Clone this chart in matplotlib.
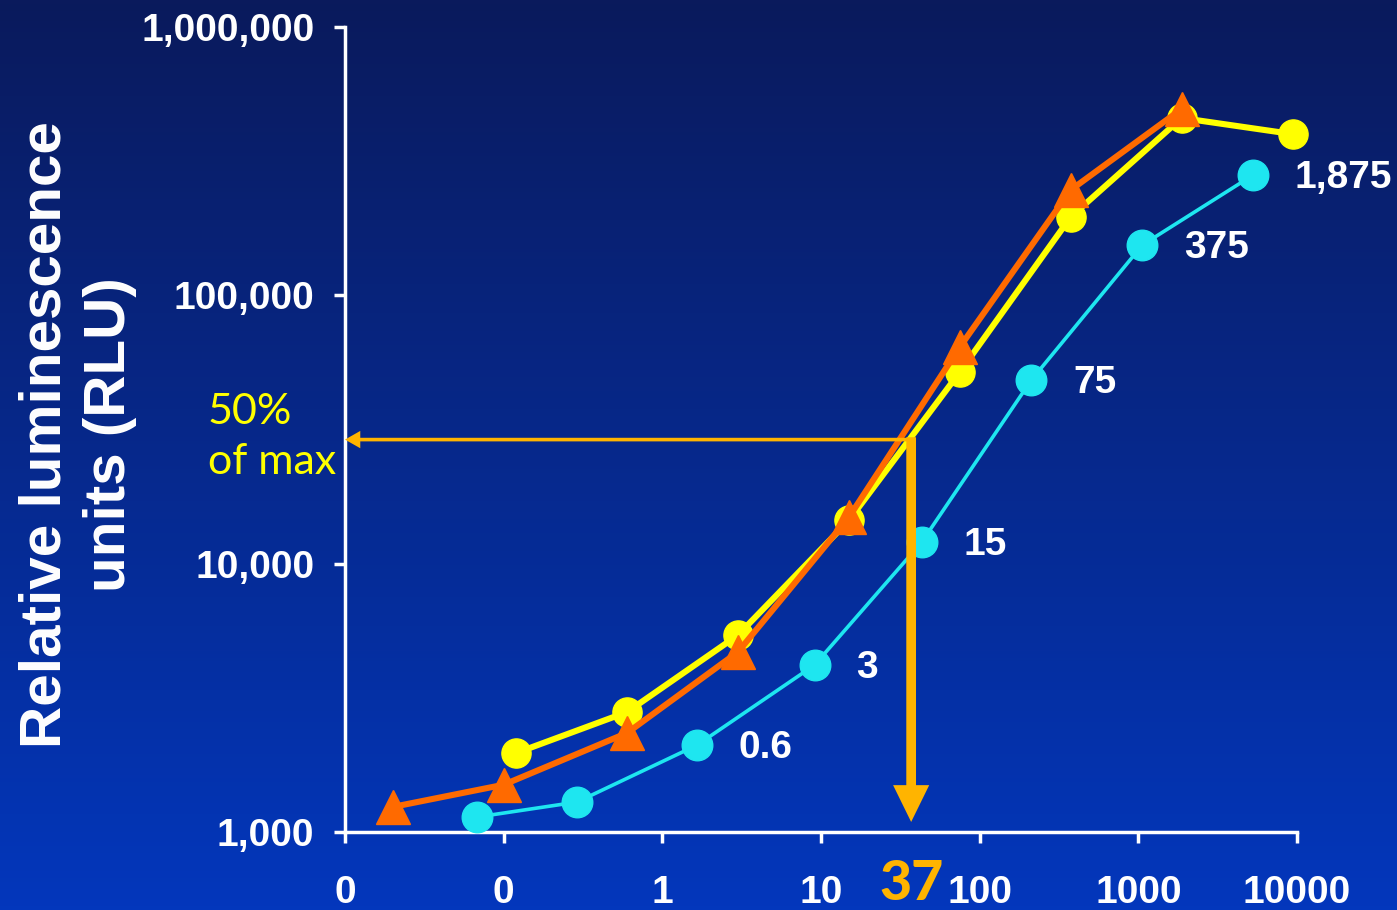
import numpy as np
import matplotlib
matplotlib.use("Agg")
import matplotlib.pyplot as plt

plt.rcParams.update({
    "font.family": ["Liberation Sans", "DejaVu Sans"],
    "font.weight": "bold",
})

WHITE  = "#ffffff"
ORANGE = "#ff6a00"
YELLOW = "#ffff00"
CYAN   = "#1ee6f0"
AMBER  = "#ffb400"

# dose (x) and relative luminescence (y) for the three series
orange_x = [0.02, 0.1, 0.6, 3, 15, 75, 375, 1875]
orange_y = [1240, 1500, 2340, 4690, 14900, 64200, 247000, 495000]
yellow_x = [0.12, 0.6, 3, 15, 75, 375, 1875, 9375]
yellow_y = [1970, 2800, 5420, 14500, 51800, 196000, 458000, 399000]
cyan_x = [0.068, 0.29, 1.66, 9.1, 43, 212, 1060, 5300]
cyan_y = [1137, 1293, 2110, 4190, 12000, 48400, 154000, 281000]
cyan_labels = ["", "", "0.6", "3", "15", "75", "375", "1,875"]

xticks = [0.01, 0.1, 1, 10, 100, 1000, 10000]
xticklabels = ["0", "0", "1", "10", "100", "1000", "10000"]
yticks = [1000, 10000, 100000, 1000000]
yticklabels = ["1,000", "10,000", "100,000", "1,000,000"]

half_max = 29000      # "50% of max" level
ec50 = 37
arrow_tip = 1090

fig = plt.figure(figsize=(13.97, 9.10), dpi=100)

# vertical navy -> blue gradient behind everything
bg = fig.add_axes([0, 0, 1, 1], zorder=-10)
grad = np.linspace(0, 1, 256)[:, None]
top, bot = np.array([0x0a, 0x1a, 0x5c]) / 255, np.array([0x03, 0x37, 0xbc]) / 255
img = top + (bot - top) * grad[..., None]
bg.imshow(np.repeat(img, 2, axis=1), aspect="auto", extent=[0, 1, 0, 1], origin="upper")
bg.axis("off")

ax = fig.add_axes([345 / 1397, 1 - 832 / 910, 952 / 1397, 805 / 910])
ax.set_facecolor("none")
ax.set_xscale("log"); ax.set_yscale("log")
ax.set_xlim(0.01, 10000); ax.set_ylim(1000, 1000000)

ax.plot(cyan_x, cyan_y, color=CYAN, lw=2.6, marker="o", ms=22, mec=CYAN, clip_on=False, zorder=3)
ax.plot(yellow_x, yellow_y, color=YELLOW, lw=4.4, marker="o", ms=21, mec=YELLOW, clip_on=False, zorder=4)
ax.plot(orange_x, orange_y, color=ORANGE, lw=4.4, marker="^", ms=24, mec=ORANGE, clip_on=False, zorder=5)

for x, y, s in zip(cyan_x, cyan_y, cyan_labels):
    if s:
        ax.annotate(s, (x, y), xytext=(30, -2), textcoords="offset points",
                    va="center", ha="left", color=WHITE, fontsize=28, fontweight="bold")

# half-max read-off arrows (filled "simple" arrows keep the heads sharp)
ax.annotate("", xy=(0.01, half_max), xytext=(ec50 * 1.07, half_max),
            arrowprops=dict(arrowstyle="simple,head_length=1.1,head_width=1.25,tail_width=0.26",
                            color=AMBER, lw=0, shrinkA=0, shrinkB=0, mutation_scale=10), zorder=6)
ax.annotate("", xy=(ec50, arrow_tip), xytext=(ec50, half_max * 1.02),
            arrowprops=dict(arrowstyle="simple,head_length=2.65,head_width=2.6,tail_width=0.7",
                            color=AMBER, lw=0, shrinkA=0, shrinkB=0, mutation_scale=10), zorder=6)

ax.text(ec50, -0.064, f"{ec50}", transform=ax.get_xaxis_transform(), ha="center", va="center",
        color=AMBER, fontsize=40, fontweight=900, family=["Lato", "DejaVu Sans"])
fig.text(208 / 1397, 1 - 393 / 910, "50%\nof max", ha="left", va="top", color=YELLOW,
         fontsize=31, fontweight="normal", family=["Lato", "DejaVu Sans"], linespacing=1.38)

ax.set_xticks(xticks); ax.set_xticklabels(xticklabels)
ax.set_yticks(yticks); ax.set_yticklabels(yticklabels)
ax.minorticks_off()
ax.tick_params(colors=WHITE, width=2.5, length=8, labelsize=28)
ax.tick_params(axis="x", pad=23)
ax.tick_params(axis="y", pad=14)
for t in ax.get_xticklabels() + ax.get_yticklabels():
    t.set_fontweight("bold")
ax.spines[["top", "right"]].set_visible(False)
for s in ("left", "bottom"):
    ax.spines[s].set_color(WHITE); ax.spines[s].set_linewidth(2.5)

fig.text(78 / 1397, 1 - 435 / 910, "Relative luminescence\nunits (RLU)", rotation=90,
         ha="center", va="center", color=WHITE, fontsize=42, fontweight="bold", linespacing=1.25)

fig.savefig("out.png", dpi=100)
